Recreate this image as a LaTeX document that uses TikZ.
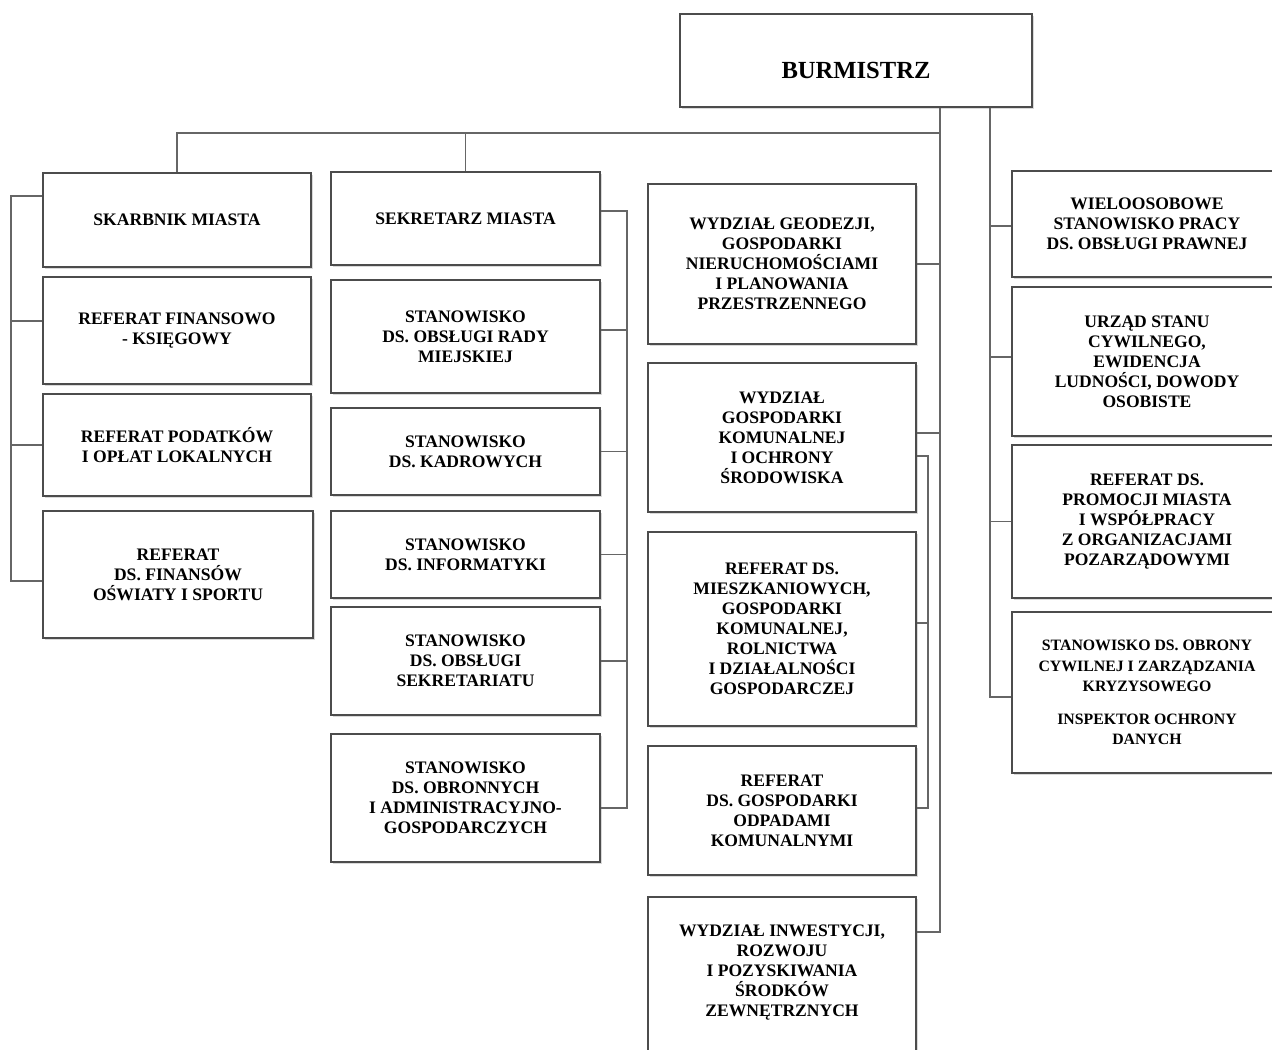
\documentclass[tikz,border=0pt]{standalone}
\usepackage{fontspec}
\setmainfont{Liberation Serif}
\usepackage{tikz}
\usetikzlibrary{shadows}

\tikzset{
  unitbox/.style 2 args={minimum width=#1*0.02cm, minimum height=#2*0.02cm},
  box/.style={draw=black!70, line width=0.9pt, fill=white, align=center, inner sep=1pt,
    font=\fontsize{10}{11.4}\selectfont\bfseries,
    drop shadow={shadow xshift=1pt, shadow yshift=-1pt, fill=black!25, opacity=0.6}},
  link/.style={draw=black!60, line width=0.9pt},
}

\begin{document}
\begin{tikzpicture}[x=0.02cm, y=-0.02cm]
        % Page frame
        \useasboundingbox (0,0) rectangle (1272,1050);

        % Head of the office
        \node[box, unitbox={352}{93}, font=\fontsize{14}{16}\selectfont\bfseries] (burmistrz) at (856,60.5) {\raisebox{-10.4pt}[0pt][0pt]{BURMISTRZ}};

        % First column
        \node[box, unitbox={268}{94}] (skarbnik) at (177,220) {SKARBNIK MIASTA};
        \node[box, unitbox={268}{107}] (ksiegowy) at (177,330.5) {REFERAT FINANSOWO\\- KSIĘGOWY};
        \node[box, unitbox={268}{102}] (podatki) at (177,445) {REFERAT PODATKÓW\\I OPŁAT LOKALNYCH};
        \node[box, unitbox={270}{127}] (oswiata) at (178,574.5) {REFERAT\\DS. FINANSÓW\\OŚWIATY I SPORTU};

        % Second column
        \node[box, unitbox={269}{93}] (sekretarz) at (465.5,218.5) {SEKRETARZ MIASTA};
        \node[box, unitbox={269}{113}] (rada) at (465.5,336.5) {STANOWISKO\\DS. OBSŁUGI RADY\\MIEJSKIEJ};
        \node[box, unitbox={269}{87}] (kadry) at (465.5,451.5) {STANOWISKO\\DS. KADROWYCH};
        \node[box, unitbox={269}{87}] (informatyka) at (465.5,554.5) {STANOWISKO\\DS. INFORMATYKI};
        \node[box, unitbox={269}{108}] (sekretariat) at (465.5,661) {STANOWISKO\\DS. OBSŁUGI\\SEKRETARIATU};
        \node[box, unitbox={269}{128}] (obronne) at (465.5,798) {STANOWISKO\\DS. OBRONNYCH\\I ADMINISTRACYJNO-\\GOSPODARCZYCH};

        % Third column
        \node[box, unitbox={268}{160}] (geodezja) at (782,264) {WYDZIAŁ GEODEZJI,\\GOSPODARKI\\NIERUCHOMOŚCIAMI\\I PLANOWANIA\\PRZESTRZENNEGO};
        \node[box, unitbox={268}{149}] (komunalna) at (782,437.5) {WYDZIAŁ\\GOSPODARKI\\KOMUNALNEJ\\I OCHRONY\\ŚRODOWISKA};
        \node[box, unitbox={268}{194}] (mieszkaniowe) at (782,629) {REFERAT DS.\\MIESZKANIOWYCH,\\GOSPODARKI\\KOMUNALNEJ,\\ROLNICTWA\\I DZIAŁALNOŚCI\\GOSPODARCZEJ};
        \node[box, unitbox={268}{129}] (odpady) at (782,810.5) {REFERAT\\DS. GOSPODARKI\\ODPADAMI\\KOMUNALNYMI};
        \node[box, unitbox={268}{167}] (inwestycje) at (782,980.5) {WYDZIAŁ INWESTYCJI,\\ROZWOJU\\I POZYSKIWANIA\\ŚRODKÓW\\ZEWNĘTRZNYCH\\[0pt]\mbox{}};

        % Fourth column
        \node[box, unitbox={270}{106}] (wieloos) at (1147,224) {WIELOOSOBOWE\\STANOWISKO PRACY\\DS. OBSŁUGI PRAWNEJ};
        \node[box, unitbox={270}{149}] (usc) at (1147,361.5) {URZĄD STANU\\CYWILNEGO,\\EWIDENCJA\\LUDNOŚCI, DOWODY\\OSOBISTE};
        \node[box, unitbox={270}{153}] (promocja) at (1147,521.5) {REFERAT DS.\\PROMOCJI MIASTA\\I WSPÓŁPRACY\\Z ORGANIZACJAMI\\POZARZĄDOWYMI};
        \node[box, unitbox={270}{161}, font=\fontsize{9}{11.6}\selectfont\bfseries] (obrona) at (1147,692.5) {STANOWISKO DS. OBRONY\\CYWILNEJ I ZARZĄDZANIA\\KRYZYSOWEGO\\[7pt]INSPEKTOR OCHRONY\\DANYCH};

        % Top bar
        \coordinate (bar) at (940,133);
        \draw[link] (skarbnik.north) |- (bar);
        \draw[link] (sekretarz.north) -- (sekretarz.north |- bar);

        % Main trunk
        \coordinate (trunk) at (940,932);
        \draw[link] (burmistrz.south -| trunk) -- (trunk) -- (trunk -| inwestycje.east);
        \draw[link] (geodezja.east) -- (geodezja.east -| trunk);
        \draw[link] ([yshift=2.6pt]komunalna.east) -- ([yshift=2.6pt]komunalna.east -| trunk);

        % Branch under the communal department
        \coordinate (sub) at (928,456);
        \draw[link] (sub -| komunalna.east) -- (sub) |- ([yshift=1.4pt]odpady.east);
        \draw[link] ([yshift=3.4pt]mieszkaniowe.east) -- ([yshift=3.4pt]mieszkaniowe.east -| sub);

        % Right trunk
        \coordinate (rbus) at (990,697);
        \draw[link] (burmistrz.south -| rbus) -- (rbus) -- (rbus -| obrona.west);
        \draw[link] ([yshift=-1.1pt]wieloos.west) -- ([yshift=-1.1pt]wieloos.west -| rbus);
        \draw[link] ([yshift=2.6pt]usc.west) -- ([yshift=2.6pt]usc.west -| rbus);
        \draw[link] (promocja.west) -- (promocja.west -| rbus);

        % Treasurer bus
        \coordinate (lbus) at (11,196);
        \draw[link] (lbus -| skarbnik.west) -- (lbus) |- ([yshift=-3.7pt]oswiata.west);
        \draw[link] ([yshift=5.4pt]ksiegowy.west) -- ([yshift=5.4pt]ksiegowy.west -| lbus);
        \draw[link] (podatki.west) -- (podatki.west -| lbus);

        % Secretary bus
        \coordinate (sbus) at (627,211);
        \draw[link] (sbus -| sekretarz.east) -- (sbus) |- ([yshift=-5.7pt]obronne.east);
        \draw[link] ([yshift=3.7pt]rada.east) -- ([yshift=3.7pt]rada.east -| sbus);
        \draw[link] (kadry.east) -- (kadry.east -| sbus);
        \draw[link] (informatyka.east) -- (informatyka.east -| sbus);
        \draw[link] (sekretariat.east) -- (sekretariat.east -| sbus);
\end{tikzpicture}
\end{document}
